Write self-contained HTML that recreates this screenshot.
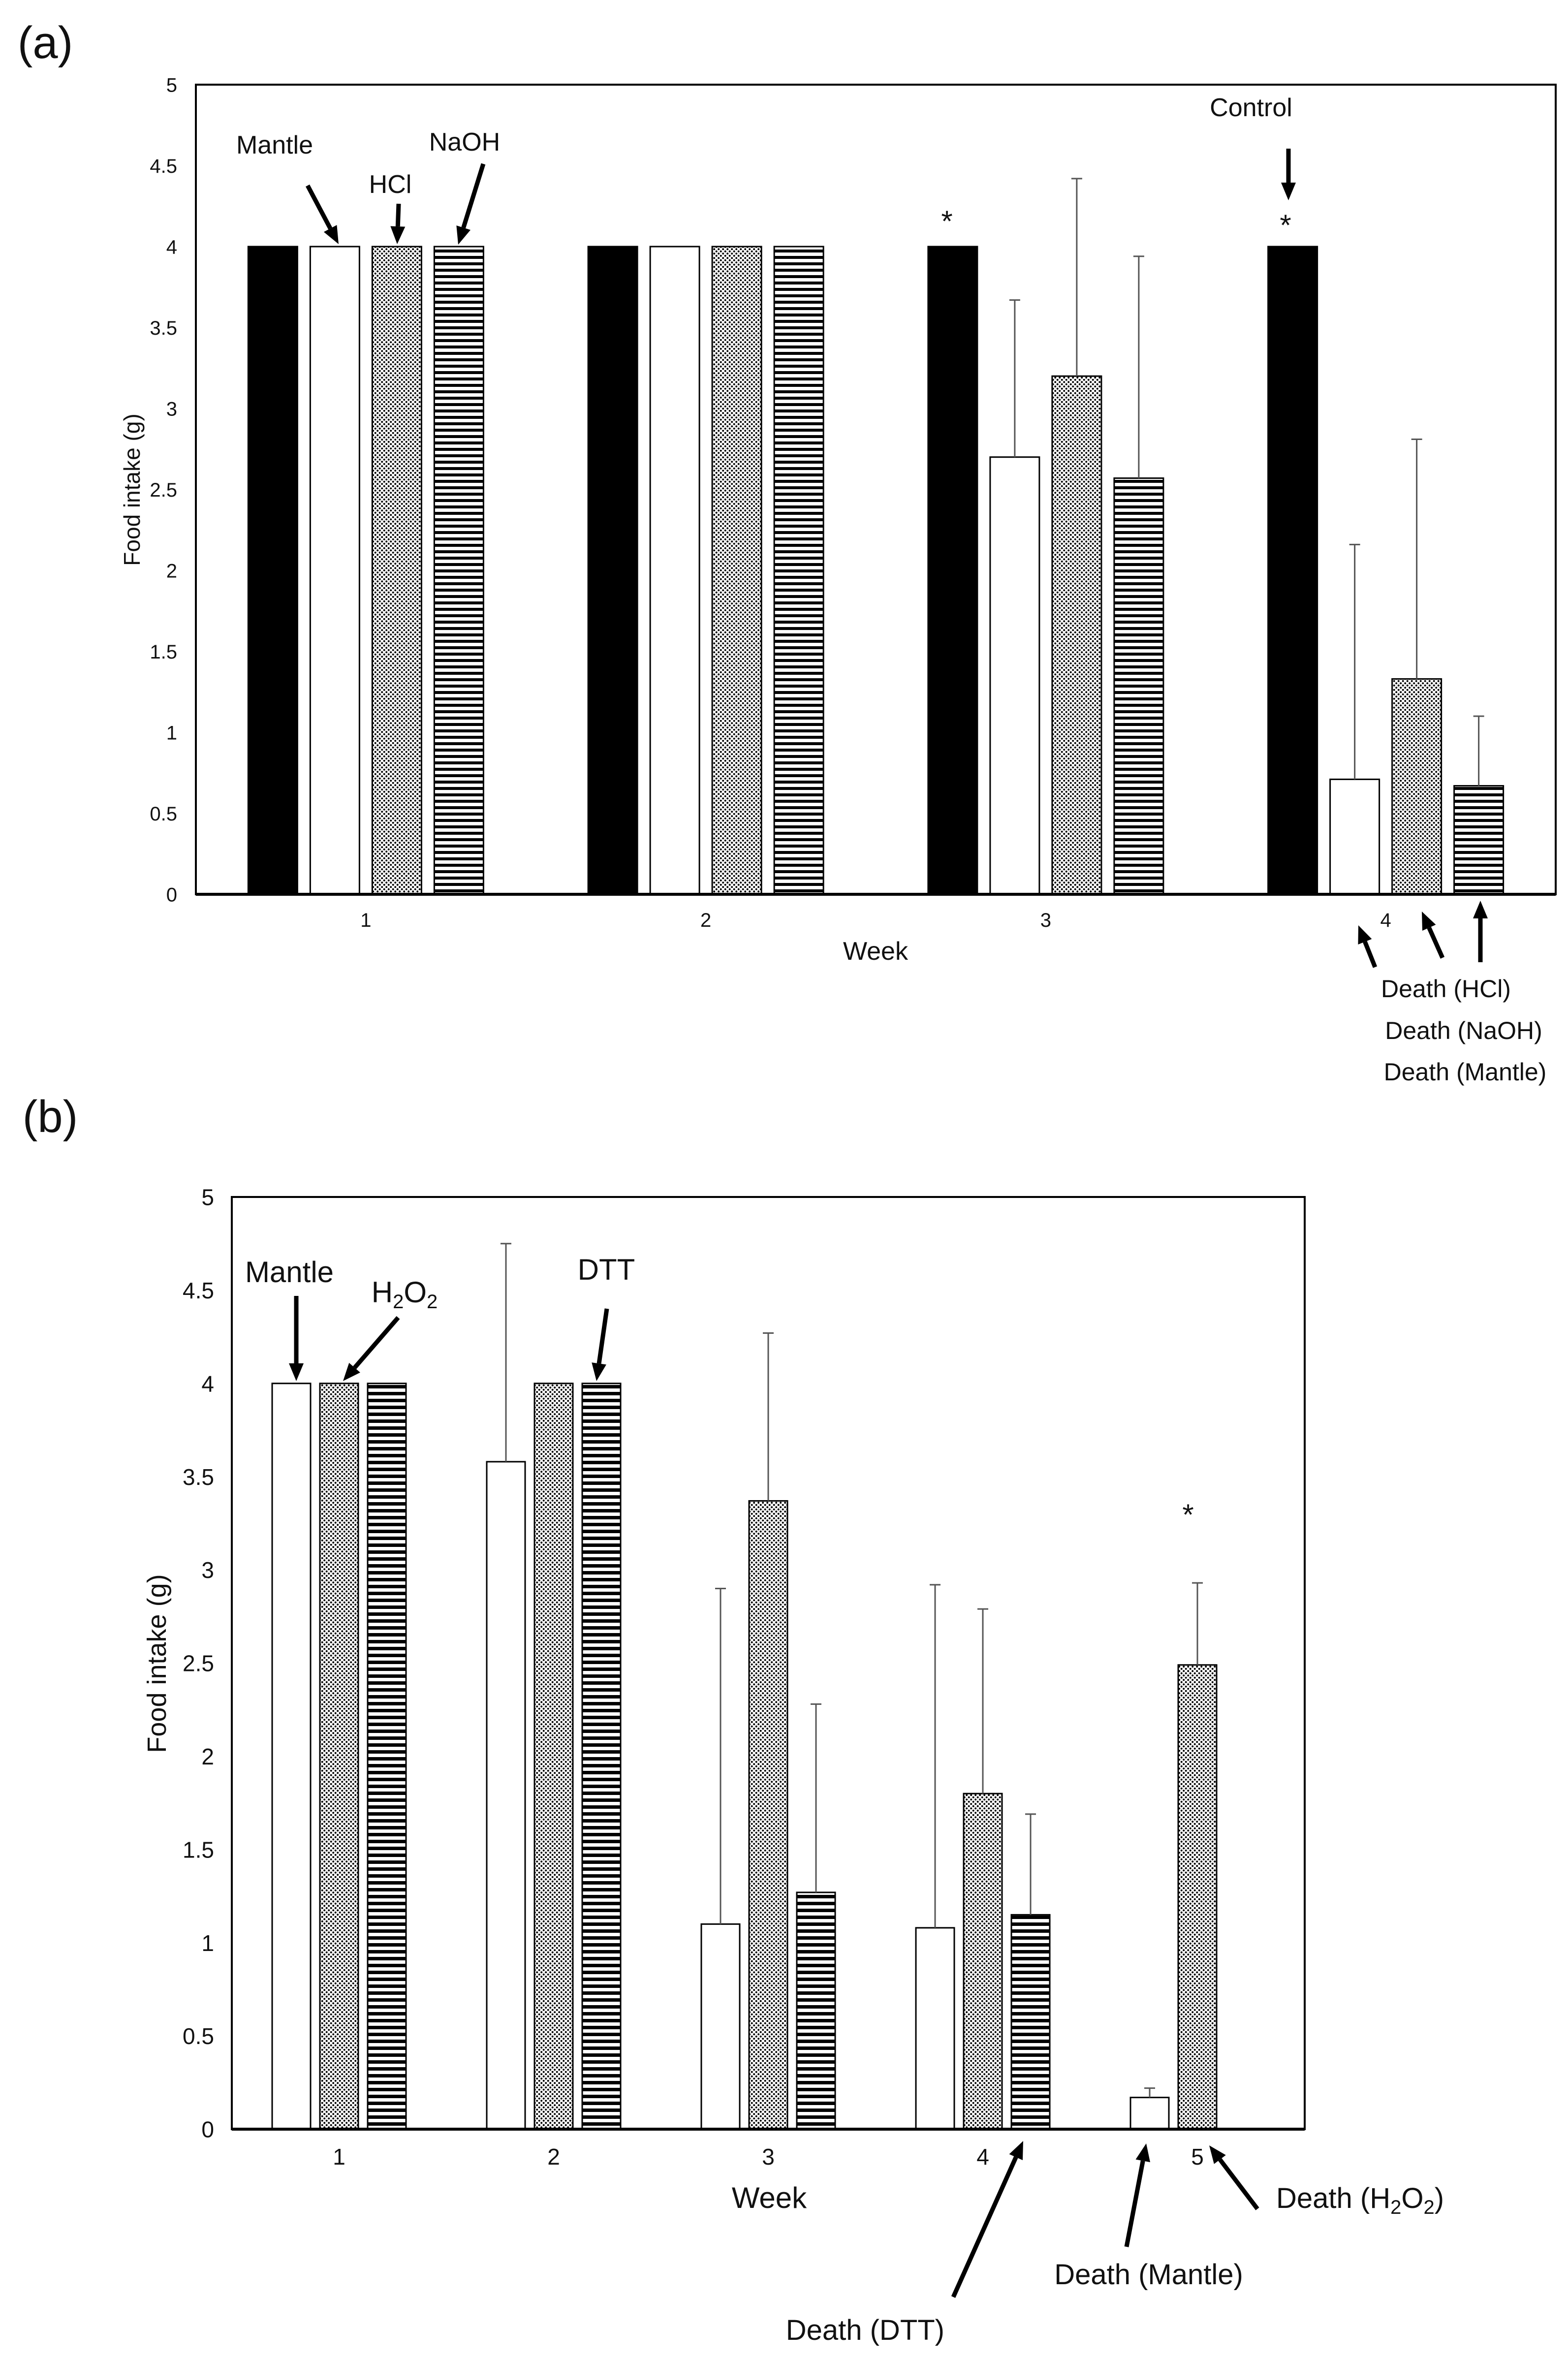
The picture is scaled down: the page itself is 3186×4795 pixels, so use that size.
<!DOCTYPE html>
<html><head><meta charset="utf-8"><title>Food intake chart</title>
<style>
html,body{margin:0;padding:0;background:#fff;}
svg{display:block;}
text{font-family:"Liberation Sans Narrow","Liberation Sans",sans-serif;fill:#111;}
</style></head>
<body>
<svg id="fig" xmlns="http://www.w3.org/2000/svg" width="3186" height="4795" viewBox="0 0 3186 4795">
<defs>
<pattern id="dotsA" width="9" height="9" patternUnits="userSpaceOnUse">
<rect width="9" height="9" fill="#fff"/><circle cx="2.2" cy="2.2" r="2" fill="#000"/><circle cx="6.7" cy="6.7" r="2" fill="#000"/>
</pattern>
<pattern id="stripesA" width="10" height="13" patternUnits="userSpaceOnUse">
<rect width="10" height="13" fill="#fff"/><rect y="0" width="10" height="6" fill="#000"/>
</pattern>
<pattern id="stripesB" width="10" height="14" patternUnits="userSpaceOnUse">
<rect width="10" height="14" fill="#fff"/><rect y="0" width="10" height="7" fill="#000"/>
</pattern>
</defs>
<g id="panelA"></g>
<g id="panelB"></g>
<g id="annot"></g>
</svg>
<script>
// ---------- Panel (a) data ----------
const aWeeks = ['1','2','3','4'];
const aControl = [4, 4, 4, 4];
const aMantle = [4, 4, 2.70, 0.71];
const aHCl = [4, 4, 3.20, 1.33];
const aNaOH = [4, 4, 2.57, 0.67];
const aControlErr = [0, 0, 0, 0];
const aMantleErr = [0, 0, 0.97, 1.45];
const aHClErr = [0, 0, 1.22, 1.48];
const aNaOHErr = [0, 0, 1.37, 0.43];
const aTicks = ['0','0.5','1','1.5','2','2.5','3','3.5','4','4.5','5'];
// ---------- Panel (b) data ----------
const bWeeks = ['1','2','3','4','5'];
const bMantle = [4, 3.58, 1.10, 1.08, 0.17];
const bH2O2 = [4, 4, 3.37, 1.80, 2.49];
const bDTT = [4, 4, 1.27, 1.15, null];
const bMantleErr = [0, 1.17, 1.80, 1.84, 0.05];
const bH2O2Err = [0, 0, 0.90, 0.99, 0.44];
const bDTTErr = [0, 0, 1.01, 0.54, null];
const bTicks = ['0','0.5','1','1.5','2','2.5','3','3.5','4','4.5','5'];

const NS = 'http://www.w3.org/2000/svg';
function mk(tag, attrs, parent){
  const e = document.createElementNS(NS, tag);
  for (const k in attrs) e.setAttribute(k, attrs[k]);
  parent.appendChild(e);
  return e;
}

function drawPanel(g, cfg){
  const yScale = v => cfg.bottom - (v / cfg.ymax) * (cfg.bottom - cfg.top);
  const catW = (cfg.right - cfg.left) / cfg.cats.length;
  const xCenter = i => cfg.left + catW * (i + 0.5);
  // y tick labels
  cfg.ticks.forEach((t) => {
    const v = parseFloat(t);
    const tx = mk('text', {x: cfg.left - cfg.tickPad, y: yScale(v) + cfg.tickFont*0.36, 'text-anchor':'end', 'font-size': cfg.tickFont}, g);
    
    
    tx.textContent = t;
  });
  // bars
  cfg.series.forEach((s, si) => {
    s.values.forEach((v, i) => {
      if (v === null || v === undefined) return;
      const cx = xCenter(i) + cfg.offsets[si] * cfg.pitch;
      const y = yScale(v);
      const r = mk('rect', {x: cx - cfg.barW/2, y: y, width: cfg.barW, height: cfg.bottom - y, fill: s.fill, stroke: '#000', 'stroke-width': 3}, g);
      
      
      const e = s.err[i];
      if (e) {
        const ey = yScale(v + e);
        const el = mk('path', {d: 'M' + cx + ' ' + y + 'V' + ey + 'M' + (cx - 11) + ' ' + ey + 'H' + (cx + 11), stroke: '#555', 'stroke-width': 3, fill: 'none'}, g);
        
        
      }
    });
  });
  // frame
  const fr = mk('rect', {x: cfg.left, y: cfg.top, width: cfg.right - cfg.left, height: cfg.bottom - cfg.top, fill: 'none', stroke: '#000', 'stroke-width': 4}, g);
  
  
  const xa = mk('line', {x1: cfg.left, x2: cfg.right, y1: cfg.bottom, y2: cfg.bottom, stroke: '#000', 'stroke-width': 6}, g);
  
  
  // x tick labels
  cfg.cats.forEach((c, i) => {
    const tx = mk('text', {x: xCenter(i), y: cfg.xLabelY, 'text-anchor':'middle', 'font-size': cfg.tickFont}, g);
    
    
    tx.textContent = c;
  });
}

drawPanel(document.getElementById('panelA'), {
  left: 398, right: 3161, top: 172, bottom: 1817, ymax: 5,
  cats: aWeeks, ticks: aTicks, tickFont: 40, tickPad: 38, xLabelY: 1883,
  barW: 100, pitch: 126, offsets: [-1.5, -0.5, 0.5, 1.5],
  series: [
    {name: 'control', values: aControl, err: aControlErr, fill: '#000'},
    {name: 'mantle', values: aMantle, err: aMantleErr, fill: '#fff'},
    {name: 'hcl', values: aHCl, err: aHClErr, fill: 'url(#dotsA)'},
    {name: 'naoh', values: aNaOH, err: aNaOHErr, fill: 'url(#stripesA)'}
  ]
});
drawPanel(document.getElementById('panelB'), {
  left: 471, right: 2651, top: 2432, bottom: 4326, ymax: 5,
  cats: bWeeks, ticks: bTicks, tickFont: 46, tickPad: 36, xLabelY: 4398,
  barW: 78, pitch: 97, offsets: [-1, 0, 1],
  series: [
    {name: 'mantle', values: bMantle, err: bMantleErr, fill: '#fff'},
    {name: 'h2o2', values: bH2O2, err: bH2O2Err, fill: 'url(#dotsA)'},
    {name: 'dtt', values: bDTT, err: bDTTErr, fill: 'url(#stripesB)'}
  ]
});

// ---------- annotations ----------
const an = document.getElementById('annot');
function txt(x, y, size, s, name, anchor){
  const t = mk('text', {x: x, y: y, 'font-size': size, 'text-anchor': anchor || 'middle'}, an);
  
  
  t.innerHTML = s;
  return t;
}
function arrow(x1, y1, x2, y2, name){
  const g = mk('g', {}, an);
  
  
  const dx = x2 - x1, dy = y2 - y1, L = Math.hypot(dx, dy), ux = dx / L, uy = dy / L;
  const hl = 36, hw = 15;
  const bx = x2 - ux * hl, by = y2 - uy * hl;
  mk('line', {x1: x1, y1: y1, x2: bx, y2: by, stroke: '#000', 'stroke-width': 9}, g);
  mk('polygon', {points: x2 + ',' + y2 + ' ' + (bx - uy * hw) + ',' + (by + ux * hw) + ' ' + (bx + uy * hw) + ',' + (by - ux * hw), fill: '#000'}, g);
}
// Panel (a)
txt(92, 118, 92, '(a)', 'panel-a-label');
const ya = txt(0, 0, 46, 'Food intake (g)', 'y-axis-title-a');
ya.setAttribute('transform', 'translate(284,995) rotate(-90)');
txt(1779, 1950, 52, 'Week', 'x-axis-title-a');
txt(558, 312, 52, 'Mantle', 'label-mantle-a');
arrow(625, 377, 688, 496, 'arrow-mantle-a');
txt(793, 392, 52, 'HCl', 'label-hcl-a');
arrow(810, 414, 807, 496, 'arrow-hcl-a');
txt(944, 306, 52, 'NaOH', 'label-naoh-a');
arrow(982, 333, 931, 497, 'arrow-naoh-a');
txt(2542, 236, 52, 'Control', 'label-control-a');
arrow(2618, 302, 2618, 407, 'arrow-control-a');
txt(2612, 478, 60, '*', 'significance-star-week4-a');
txt(1924, 470, 60, '*', 'significance-star-week3-a');
arrow(2794, 1965, 2760, 1880, 'arrow-death-mantle-a');
arrow(2931, 1946, 2889, 1852, 'arrow-death-hcl-a');
arrow(3008, 1955, 3008, 1830, 'arrow-death-naoh-a');
txt(2938, 2026, 50, 'Death (HCl)', 'label-death-hcl-a');
txt(2974, 2111, 50, 'Death (NaOH)', 'label-death-naoh-a');
txt(2977, 2195, 50, 'Death (Mantle)', 'label-death-mantle-a');
// Panel (b)
txt(102, 2300, 92, '(b)', 'panel-b-label');
const yb = txt(0, 0, 54, 'Food intake (g)', 'y-axis-title-b');
yb.setAttribute('transform', 'translate(337,3380) rotate(-90)');
txt(1563, 4486, 60, 'Week', 'x-axis-title-b');
txt(588, 2605, 60, 'Mantle', 'label-mantle-b');
arrow(602, 2633, 602, 2806, 'arrow-mantle-b');
txt(822, 2646, 60, 'H<tspan font-size="40" dy="12">2</tspan><tspan dy="-12">O</tspan><tspan font-size="40" dy="12">2</tspan>', 'label-h2o2-b');
arrow(809, 2677, 697, 2806, 'arrow-h2o2-b');
txt(1232, 2600, 60, 'DTT', 'label-dtt-b');
arrow(1233, 2659, 1212, 2806, 'arrow-dtt-b');
txt(2414, 3098, 60, '*', 'significance-star-week5-b');
arrow(1937, 4667, 2079, 4350, 'arrow-death-dtt-b');
arrow(2289, 4565, 2329, 4355, 'arrow-death-mantle-b');
arrow(2555, 4488, 2457, 4359, 'arrow-death-h2o2-b');
txt(1919, 4754, 58, 'Death (DTT)', 'label-death-dtt-b', 'end');
txt(2334, 4641, 58, 'Death (Mantle)', 'label-death-mantle-b');
txt(2593, 4486, 58, 'Death (H<tspan font-size="40" dy="12">2</tspan><tspan dy="-12">O</tspan><tspan font-size="40" dy="12">2</tspan><tspan dy="-12">)</tspan>', 'label-death-h2o2-b', 'start');
</script>
</body></html>
